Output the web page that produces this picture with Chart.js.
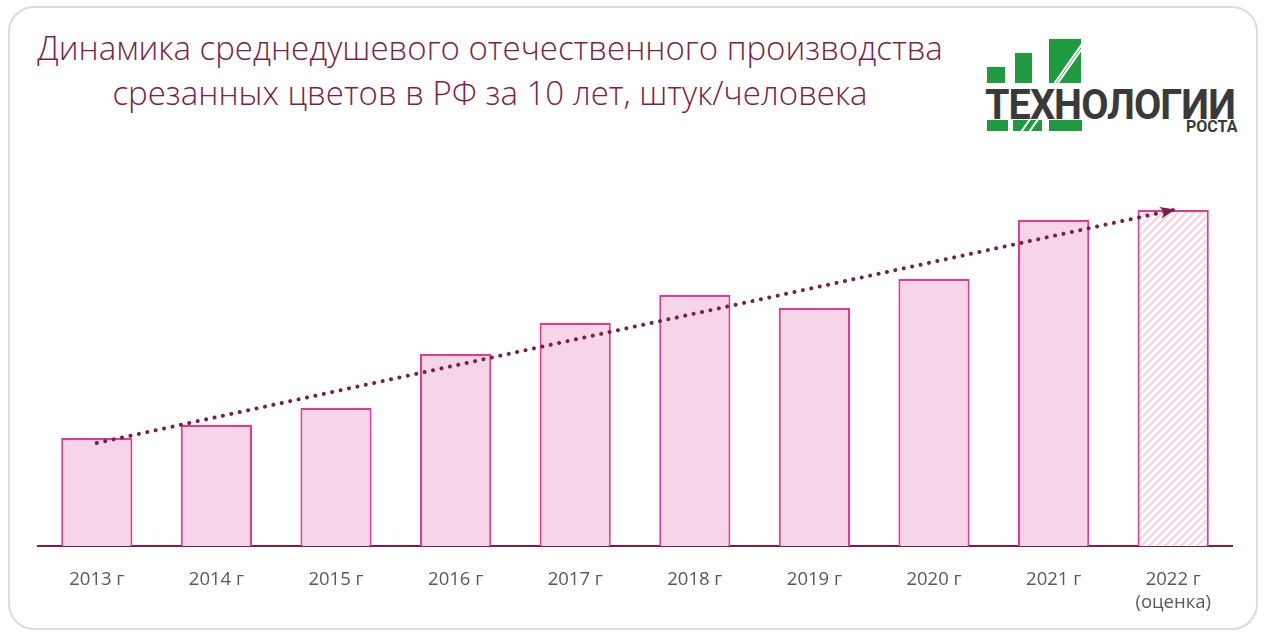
<!DOCTYPE html>
<html>
<head>
<meta charset="utf-8">
<script src="https://cdn.jsdelivr.net/npm/chart.js@4"></script>
<style>
  body { margin: 0; background: #fff; width: 1266px; height: 635px; overflow: hidden; font-family: "Open Sans", sans-serif; }
  #card { position: absolute; left: 8px; top: 6px; width: 1250px; height: 624px; border: 2px solid #dcdcdc; border-radius: 26px; box-sizing: border-box; }
  #title { position: absolute; left: 20px; top: 25px; width: 940px; text-align: center; color: #7b1f45; font-size: 33px; font-weight: 300; line-height: 45px; }
  #wrap { position: absolute; left: 37px; top: 186px; width: 1196px; height: 449px; }
  .g { position: absolute; background: #1f9a3f; overflow: hidden; }
  .s { position: absolute; background: #fff; width: 2px; height: 70px; transform: rotate(35deg); }
  #logoText { position: absolute; left: 985px; top: 79px; font-family: Roboto, sans-serif; font-weight: 700; font-size: 43px; color: #3a3a3a; transform-origin: 0 0; transform: scaleX(0.92); letter-spacing: -1px; }
  #logoSub { position: absolute; left: 1186px; top: 117px; font-family: Roboto, sans-serif; font-weight: 700; font-size: 16px; color: #3a3a3a; }
</style>
</head>
<body>
<div id="card"></div>
<div id="title">Динамика среднедушевого отечественного производства<br>срезанных цветов в РФ за 10 лет, штук/человека</div>

<div class="g" style="left:987px;top:67px;width:18px;height:16px"></div>
<div class="g" style="left:1015px;top:53px;width:17px;height:30px"></div>
<div class="g" style="left:1049px;top:39px;width:32px;height:44px"><div class="s" style="left:18px;top:-10px"></div><div class="s" style="left:24px;top:-14px"></div></div>
<div class="g" style="left:987px;top:120px;width:21px;height:11px"></div>
<div class="g" style="left:1013px;top:120px;width:29px;height:11px"><div class="s" style="left:12px;top:-30px"></div><div class="s" style="left:20px;top:-30px"></div></div>
<div class="g" style="left:1049px;top:120px;width:33px;height:11px"></div>
<div id="logoText">ТЕХНОЛОГИИ</div>
<div id="logoSub">РОСТА</div>

<div id="wrap"><canvas id="c"></canvas></div>

<script>
const categories = ["2013 г", "2014 г", "2015 г", "2016 г", "2017 г", "2018 г", "2019 г", "2020 г", "2021 г", ["2022 г", "(оценка)"]];
const valeurs = [1.08, 1.21, 1.38, 1.92, 2.23, 2.51, 2.38, 2.67, 3.26, 3.36];
// tendance : début et fin
const tendance = [1.03, null, null, null, null, null, null, null, null, 3.36];

// motif hachuré pour l'estimation 2022
function hachures() {
    const p = document.createElement("canvas");
    p.width = 8; p.height = 8;
    const c = p.getContext("2d");
    c.fillStyle = "#ffffff";
    c.fillRect(0, 0, 8, 8);
    c.strokeStyle = "#f6cfe3";
    c.lineWidth = 2;
    c.beginPath();
    c.moveTo(0, 8); c.lineTo(8, 0);
    c.moveTo(-2, 2); c.lineTo(2, -2);
    c.moveTo(6, 10); c.lineTo(10, 6);
    c.stroke();
    return document.getElementById("c").getContext("2d").createPattern(p, "repeat");
}

const remplissage = valeurs.map((v, i) => i === valeurs.length - 1 ? hachures() : "#f7d5e9");

const fleche = {
    id: "fleche",
    afterDatasetsDraw(chart) {
        const pts = chart.getDatasetMeta(1).data;
        const a = pts[0], b = pts[pts.length - 1];
        const ang = Math.atan2(b.y - a.y, b.x - a.x);
        const ctx = chart.ctx;
        ctx.save();
        ctx.translate(b.x, b.y);
        ctx.rotate(ang);
        ctx.fillStyle = "#7a1f45";
        ctx.beginPath();
        ctx.moveTo(2, 0);
        ctx.lineTo(-13, -6);
        ctx.lineTo(-9, 0);
        ctx.lineTo(-13, 6);
        ctx.closePath();
        ctx.fill();
        ctx.restore();
    }
};

new Chart(document.getElementById("c"), {
    data: {
        labels: categories,
        datasets: [
            {
                type: "bar",
                data: valeurs,
                backgroundColor: remplissage,
                borderColor: "#e8388f",
                borderWidth: 2,
                barPercentage: 0.595,
                categoryPercentage: 1,
                order: 2,
            },
            {
                type: "line",
                data: tendance,
                spanGaps: true,
                borderColor: "#7a1f45",
                borderWidth: 4,
                borderDash: [0.1, 8.5],
                borderCapStyle: "round",
                pointRadius: 0,
                fill: false,
                order: 1,
            },
        ],
    },
    options: {
        responsive: true,
        maintainAspectRatio: false,
        animation: false,
        layout: { padding: 0 },
        plugins: {
            legend: { display: false },
            tooltip: { enabled: false },
        },
        scales: {
            x: {
                grid: { display: false },
                border: { color: "#7a2048", width: 2 },
                ticks: { color: "#595959", font: { family: "Open Sans", size: 18.5 }, padding: 15, maxRotation: 0 },
                afterFit(s) { s.height = 89; },
            },
            y: {
                display: false,
                min: 0,
                max: 3.6,
            },
        },
    },
    plugins: [fleche],
});
</script>
</body>
</html>
